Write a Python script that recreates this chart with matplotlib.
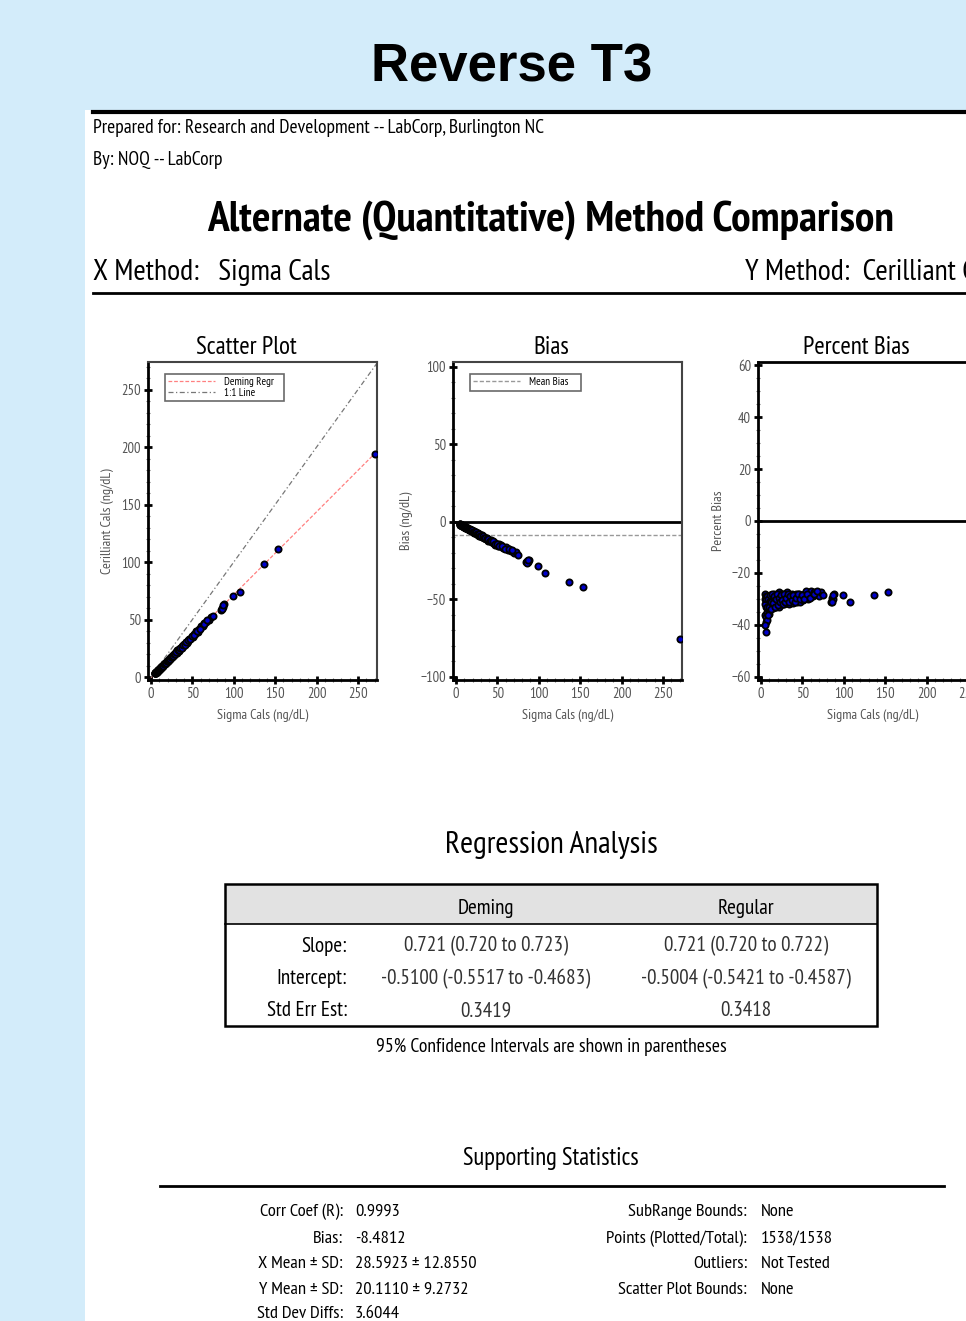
import matplotlib
matplotlib.use('Agg')
import matplotlib.pyplot as plt
from matplotlib.patches import Rectangle
import numpy as np

plt.rcParams['font.family'] = ['PT Sans Narrow', 'DejaVu Sans']

# Sigma Cals (x) vs Cerilliant Cals (y), ng/dL
sigma_cals = [4.5, 5.0, 5.2, 5.5, 5.8, 6.0, 6.3, 6.6, 7.0, 7.2, 7.6, 8.0, 8.3, 8.7, 9.0,
              9.4, 9.8, 10.2, 10.6, 11.0, 11.5, 12.0, 12.4, 12.9, 13.4, 13.9, 14.4, 15.0,
              15.5, 16.1, 16.6, 17.2, 17.8, 18.3, 18.9, 19.5, 20.1, 20.7, 21.3, 21.9, 22.5,
              23.1, 23.8, 24.4, 25.0, 25.7, 26.3, 27.0, 27.6, 28.3, 29.0, 29.7, 30.4, 31.1,
              31.8, 32.6, 33.3, 34.1, 34.9, 35.7, 36.5, 37.4, 38.3, 39.2, 40.1, 41.1, 42.1,
              43.1, 44.2, 45.3, 46.5, 47.7, 49.0, 50.3, 51.7, 53.2, 54.8, 56.5, 58.3, 60.2,
              62.3, 64.6, 67.0, 69.5, 72.0, 74.5, 84.0, 85.5, 87.0, 88.5, 99.0, 107.0,
              137.0, 154.0, 270.0,
              4.8, 5.4, 6.1, 6.8, 7.4, 8.1, 8.9, 9.6, 10.4, 11.2, 11.8, 12.7, 13.6, 14.6,
              15.7, 16.9, 18.0, 19.2, 20.4, 21.6, 22.8, 24.1, 25.4, 26.7, 28.0, 29.3, 30.7,
              32.2, 33.7, 35.3, 36.9, 38.7, 40.6, 42.6, 44.8, 47.1, 49.6, 52.4, 55.5, 59.0,
              63.5, 68.0, 86.0, 87.5]
cerilliant_cals = [3.24, 3.20, 3.64, 3.14, 3.54, 4.02, 3.97, 4.69, 4.55, 4.97, 4.71, 5.36,
                   5.89, 5.74, 6.21, 6.02, 6.86, 6.83, 7.53, 7.26, 7.94, 8.58, 8.31, 9.03,
                   9.11, 9.87, 9.58, 10.43, 11.16, 10.95, 11.70, 11.87, 11.93, 13.08, 13.23,
                   13.26, 14.27, 14.28, 15.44, 14.67, 15.75, 16.63, 16.30, 17.32, 17.00,
                   17.99, 18.94, 18.63, 19.46, 19.24, 20.74, 20.64, 21.58, 21.30, 23.06,
                   22.82, 22.64, 24.38, 24.26, 25.35, 25.19, 26.93, 26.81, 26.85, 28.47,
                   28.56, 30.31, 29.74, 31.16, 31.71, 33.48, 32.91, 34.79, 34.96, 37.22,
                   37.51, 40.00, 39.55, 41.68, 43.95, 44.23, 46.84, 48.24, 49.35, 52.20,
                   53.27, 57.96, 60.28, 60.90, 63.72, 70.79, 73.83, 97.96, 111.65, 194.40,
                   3.26, 3.24, 4.27, 4.56, 5.25, 5.18, 6.23, 6.43, 7.18, 8.01, 7.79, 8.76,
                   9.79, 10.00, 11.15, 11.32, 12.60, 13.82, 13.77, 15.23, 15.73, 17.23,
                   17.65, 18.16, 20.16, 20.22, 21.64, 23.18, 23.25, 25.06, 25.65, 27.67,
                   28.01, 30.03, 32.26, 32.97, 35.46, 36.68, 39.96, 41.60, 45.72, 49.64,
                   59.34, 62.56]

deming_slope = 0.721
deming_intercept = -0.5100
mean_bias = -8.4812

tick_vals = [0, 50, 100, 150, 200, 250]

row_labels = ['Slope:', 'Intercept:', 'Std Err Est:']
deming_vals = ['0.721 (0.720 to 0.723)', '-0.5100 (-0.5517 to -0.4683)', '0.3419']
regular_vals = ['0.721 (0.720 to 0.722)', '-0.5004 (-0.5421 to -0.4587)', '0.3418']

stats_left_labels = ['Corr Coef (R):', 'Bias:', 'X Mean \u00b1 SD:', 'Y Mean \u00b1 SD:', 'Std Dev Diffs:']
stats_left_vals = ['0.9993', '-8.4812', '28.5923 \u00b1 12.8550', '20.1110 \u00b1 9.2732', '3.6044']
stats_right_labels = ['SubRange Bounds:', 'Points (Plotted/Total):', 'Outliers:', 'Scatter Plot Bounds:']
stats_right_vals = ['None', '1538/1538', 'Not Tested', 'None']

W, H = 966, 1321
fig = plt.figure(figsize=(W / 100, H / 100), dpi=100, facecolor='#d3ecfa')

# page layer in pixel coordinates
page = fig.add_axes([0, 0, 1, 1])
page.set_xlim(0, W)
page.set_ylim(H, 0)
page.axis('off')
page.add_patch(Rectangle((85, 110), W - 85, H - 110, facecolor='white', edgecolor='none'))

page.text(512, 68, 'Reverse T3', family=['Liberation Sans', 'DejaVu Sans'], fontsize=38,
          fontweight='bold', ha='center', va='center')
page.plot([93, W], [112, 112], color='black', lw=3)
page.text(93, 128, 'Prepared for: Research and Development -- LabCorp, Burlington NC',
          fontsize=14, ha='left', va='center')
page.text(93, 160, 'By: NOQ -- LabCorp', fontsize=14, ha='left', va='center')
page.text(551, 220, 'Alternate (Quantitative) Method Comparison', fontsize=31.3,
          fontweight='bold', ha='center', va='center')
page.text(93, 272, 'X Method:   Sigma Cals', fontsize=21.5, ha='left', va='center')
page.text(745, 272, 'Y Method:  Cerilliant Cals', fontsize=21.5, ha='left', va='center')
page.plot([93, W], [293, 293], color='black', lw=2)


def box(x0, y0, x1, y1):
    return [x0 / W, 1 - y1 / H, (x1 - x0) / W, (y1 - y0) / H]


def style_axes(ax, ylim, yticks, ylabel, title):
    ax.set_xlim(-3.6, 273)
    ax.set_ylim(*ylim)
    ax.set_xticks(tick_vals)
    ax.set_yticks(yticks)
    ax.tick_params(direction='inout', length=6, width=2, colors='black',
                   labelcolor='#555555', labelsize=10.5, pad=2)
    ax.minorticks_on()
    ax.tick_params(which='minor', direction='inout', length=3, width=0.8, color='#777777')
    for s in ['left', 'bottom']:
        ax.spines[s].set_linewidth(2)
        ax.spines[s].set_color('black')
    for s in ['top', 'right']:
        ax.spines[s].set_linewidth(1.5)
        ax.spines[s].set_color('#444444')
    ax.set_xlabel('Sigma Cals (ng/dL)', fontsize=10.2, color='#555555', labelpad=6)
    ax.set_ylabel(ylabel, fontsize=10.2, color='#555555', labelpad=5)
    ax.set_title(title, fontsize=18, pad=6, x=0.43)


def style_legend(leg):
    leg.get_frame().set_linewidth(1.2)
    leg.get_frame().set_edgecolor('#444444')


x = np.array(sigma_cals)
y = np.array(cerilliant_cals)
bias = y - x
pct_bias = 100 * (y - x) / x
mk = dict(s=20, facecolor='#0000cc', edgecolor='black', linewidths=1.3, zorder=3)
leg_kw = dict(loc='upper left', fontsize=8, frameon=True, fancybox=False, borderpad=0.3,
              handlelength=4.2, handletextpad=0.8, labelspacing=0.05,
              bbox_to_anchor=(0.05, 0.98))

# Scatter plot
ax1 = fig.add_axes(box(148, 362, 377, 680))
style_axes(ax1, (-2.6, 274), tick_vals, 'Cerilliant Cals (ng/dL)', 'Scatter Plot')
xl = np.array([0, 270])
ax1.plot(xl, deming_slope * xl + deming_intercept, color='#ff8080', lw=0.9,
         ls=(0, (3, 1.5)), label='Deming Regr   ')
ax1.plot([0, 273], [0, 273], color='#777777', lw=0.9, ls=(0, (4, 2, 1, 2)), label='1:1 Line')
ax1.scatter(x, y, **mk)
style_legend(ax1.legend(**leg_kw))

# Bias plot
ax2 = fig.add_axes(box(453, 362, 682, 680))
style_axes(ax2, (-102, 103), [-100, -50, 0, 50, 100], 'Bias (ng/dL)', 'Bias')
ax2.axhline(0, color='black', lw=2)
ax2.axhline(mean_bias, color='#999999', lw=1, ls=(0, (3, 1.5)), label='Mean Bias    ')
ax2.scatter(x, bias, **mk)
style_legend(ax2.legend(**leg_kw))

# Percent bias plot
ax3 = fig.add_axes(box(758, 362, 987, 680))
style_axes(ax3, (-61.2, 61.2), [-60, -40, -20, 0, 20, 40, 60], 'Percent Bias', 'Percent Bias')
ax3.spines['top'].set_color('black')
ax3.spines['top'].set_linewidth(2)
ax3.axhline(0, color='black', lw=2)
ax3.scatter(x, pct_bias, **mk)

# Regression analysis table
page.text(551, 845, 'Regression Analysis', fontsize=22.6, ha='center', va='center')
page.add_patch(Rectangle((225, 884), 652, 40, facecolor='#e2e2e2', edgecolor='none'))
page.add_patch(Rectangle((225, 884), 652, 142, facecolor='none', edgecolor='black', lw=1.8))
page.plot([225, 877], [924, 924], color='black', lw=1.2)
page.text(486, 909, 'Deming', fontsize=15.2, ha='center', va='center')
page.text(746, 909, 'Regular', fontsize=15.2, ha='center', va='center')
for i, (lab, dv, rv) in enumerate(zip(row_labels, deming_vals, regular_vals)):
    yy = 946 + i * 32.5
    page.text(347, yy, lab, fontsize=15.2, ha='right', va='center')
    page.text(486, yy, dv, fontsize=15.2, ha='center', va='center', color='#333333')
    page.text(746, yy, rv, fontsize=15.2, ha='center', va='center', color='#333333')
page.text(551, 1047, '95% Confidence Intervals are shown in parentheses', fontsize=14.1,
          ha='center', va='center')

# Supporting statistics
page.text(551, 1158, 'Supporting Statistics', fontsize=17.7, ha='center', va='center')
page.plot([160, 944], [1186, 1186], color='black', lw=2)
stat_rows = [1212, 1239, 1264, 1290, 1314]
for yy, lab, val in zip(stat_rows, stats_left_labels, stats_left_vals):
    page.text(343, yy, lab, fontsize=13.3, ha='right', va='center')
    page.text(355, yy, val, fontsize=13.3, ha='left', va='center')
for yy, lab, val in zip(stat_rows, stats_right_labels, stats_right_vals):
    page.text(747, yy, lab, fontsize=13.3, ha='right', va='center')
    page.text(761, yy, val, fontsize=13.3, ha='left', va='center')

fig.savefig('out.png', dpi=100, facecolor=fig.get_facecolor())
